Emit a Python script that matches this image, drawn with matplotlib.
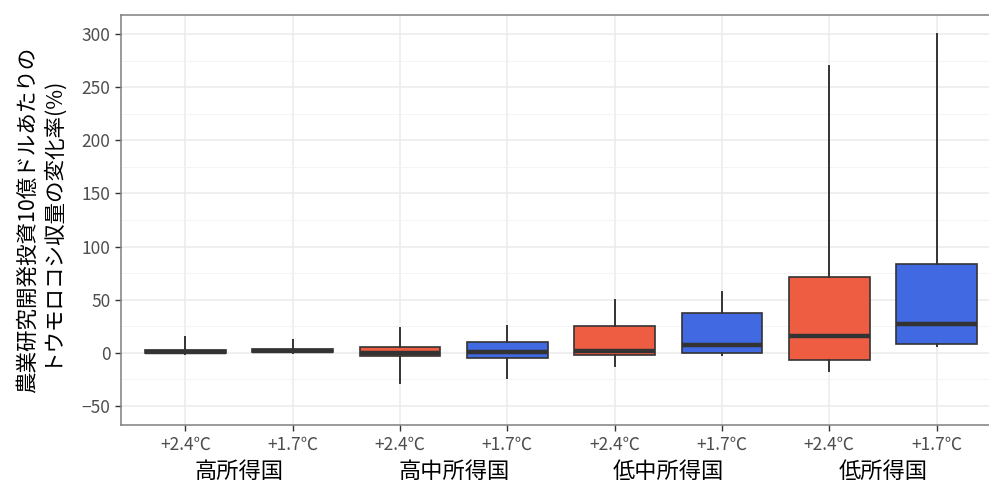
import matplotlib
matplotlib.use("Agg")
import matplotlib.pyplot as plt
from matplotlib.ticker import MultipleLocator
import matplotlib.transforms as mtransforms

plt.rcParams['font.family'] = ['Noto Sans CJK JP', 'DejaVu Sans']

# income groups and warming scenarios
groups = ['高所得国', '高中所得国', '低中所得国', '低所得国']
scenarios = ['+2.4℃', '+1.7℃']
fills = ['#EE5C42', '#4169E1']

# box statistics per box, in order: group x scenario
whislo = [-1, 0, -28, -24, -12, -2, -17, 6]
q1 = [0, 0.5, -3, -5, -2, 0, -7, 8]
med = [1, 2, 0, 1, 2, 7, 16, 27]
q3 = [3, 4, 5, 10, 25, 37, 71, 84]
whishi = [15, 12, 23, 25, 50, 57, 270, 300]

stats = []
for i in range(len(med)):
    stats.append(dict(whislo=whislo[i], q1=q1[i], med=med[i], q3=q3[i],
                      whishi=whishi[i], fliers=[]))

fig = plt.figure(figsize=(9.89, 4.83), dpi=100)
ax = fig.add_axes([121 / 989, 58 / 483, 880 / 989, 410 / 483])

positions = list(range(1, len(stats) + 1))
bp = ax.bxp(stats, positions=positions, widths=0.75, patch_artist=True,
            showcaps=False,
            boxprops=dict(edgecolor='#333333', linewidth=1.2),
            medianprops=dict(color='#333333', linewidth=3.2, solid_capstyle='butt'),
            whiskerprops=dict(color='#333333', linewidth=1.4),
            zorder=3)
for i, box in enumerate(bp['boxes']):
    box.set_facecolor(fills[i % 2])

ax.set_xlim(0.4, 8.6)
ax.set_ylim(-68, 318)
ax.yaxis.set_major_locator(MultipleLocator(50))
ax.yaxis.set_minor_locator(MultipleLocator(25))
ax.grid(True, which='major', color='#EBEBEB', linewidth=1.1, zorder=0)
ax.grid(True, which='minor', axis='y', color='#F2F2F2', linewidth=0.6, zorder=0)
ax.set_axisbelow(True)

ax.set_xticks(positions)
ax.set_xticklabels(scenarios * len(groups), fontsize=12.5, color='#4D4D4D')
ax.tick_params(axis='y', which='major', labelsize=12.5, labelcolor='#4D4D4D',
               color='#333333', length=4, width=1)
ax.tick_params(axis='y', which='minor', length=0)
ax.tick_params(axis='x', color='#333333', length=4, width=1, pad=4)

for s in ax.spines.values():
    s.set_color('#7F7F7F')
    s.set_linewidth(1.1)

trans = mtransforms.blended_transform_factory(ax.transData, fig.transFigure)
for g, name in enumerate(groups):
    ax.text(2 * g + 1.5, 12 / 483, name, transform=trans, ha='center',
            va='center', fontsize=16, color='black')

ax.set_ylabel('農業研究開発投資10億ドルあたりの\nトウモロコシ収量の変化率(%)',
              fontsize=15.5, linespacing=0.95)
ax.yaxis.set_label_coords(-0.069, 0.5)

fig.savefig('out.png', dpi=100)
